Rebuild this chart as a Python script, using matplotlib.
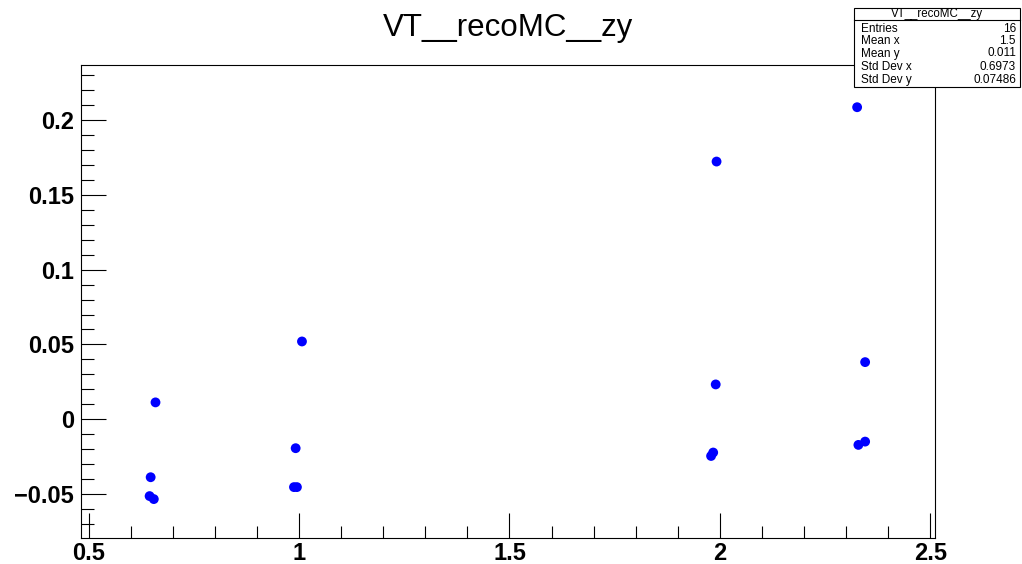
import matplotlib
matplotlib.use("Agg")
import matplotlib.pyplot as plt
from matplotlib.patches import Rectangle
from matplotlib.ticker import MultipleLocator

plt.rcParams['font.family'] = ['Liberation Sans', 'DejaVu Sans']

title = "VT__recoMC__zy"
x_vals = [0.659, 0.6475, 0.645, 0.655,
          1.007, 0.992, 0.988, 0.995,
          1.992, 1.990, 1.979, 1.984,
          2.326, 2.345, 2.329, 2.345]
y_vals = [0.0113, -0.0387, -0.0513, -0.0533,
          0.0520, -0.0193, -0.0453, -0.0453,
          0.1722, 0.0233, -0.0245, -0.0222,
          0.2085, 0.0382, -0.0171, -0.0149]
stat_names = ["Entries", "Mean x", "Mean y", "Std Dev x", "Std Dev y"]
stat_values = ["16", "1.5", "0.011", "0.6973", "0.07486"]

W, H = 1022, 564
fig = plt.figure(figsize=(W / 100, H / 100), dpi=100)
fig.patch.set_facecolor("white")

left, right, top, bottom = 81, 935, 65, 538
ax = fig.add_axes([left / W, 1 - bottom / H, (right - left) / W, (bottom - top) / H])
ax.scatter(x_vals, y_vals, s=50, color=(0, 0, 1), edgecolors='none', zorder=3)

ax.set_xlim(0.482, 2.511)
ax.set_ylim(-0.0793, 0.2367)

ax.xaxis.set_major_locator(MultipleLocator(0.5))
ax.xaxis.set_minor_locator(MultipleLocator(0.1))
ax.yaxis.set_major_locator(MultipleLocator(0.05))
ax.yaxis.set_minor_locator(MultipleLocator(0.01))

ax.tick_params(which='both', direction='in', top=False, right=False, color='black', width=0.8)
ax.tick_params(which='major', length=18)
ax.tick_params(which='minor', length=9)
ax.tick_params(axis='y', which='major', labelsize=17, pad=5)
ax.tick_params(axis='x', which='major', labelsize=17, pad=3)

def fmt(v, pos=None):
    s = ("%.2f" % v).rstrip('0').rstrip('.')
    if s in ("-0", ""):
        s = "0"
    return s.replace('-', '\u2212')

ax.xaxis.set_major_formatter(plt.FuncFormatter(fmt))
ax.yaxis.set_major_formatter(plt.FuncFormatter(fmt))
for lab in ax.get_xticklabels() + ax.get_yticklabels():
    lab.set_fontweight('bold')

for sp in ax.spines.values():
    sp.set_linewidth(0.8)
    sp.set_color('black')

fig.text(508 / W, 1 - 28 / H, title, ha='center', va='center', fontsize=22.5)

# stats box
bx0, by0, bx1, by1 = 854, 8, 1020, 87
fig.patches.append(Rectangle((bx0 / W, 1 - by1 / H), (bx1 - bx0) / W, (by1 - by0) / H,
                             transform=fig.transFigure, facecolor='white',
                             edgecolor='black', linewidth=0.8, zorder=5))
fig.lines.append(plt.Line2D([bx0 / W, bx1 / W], [1 - 20 / H, 1 - 20 / H],
                            transform=fig.transFigure, color='black', linewidth=0.8, zorder=6))
fig.text((bx0 + bx1) / 2 / W, 1 - 14 / H, title, ha='center', va='center', fontsize=8.3, zorder=7)
rows_y = [28.5, 41.5, 53.5, 67, 80]
for name, val, yy in zip(stat_names, stat_values, rows_y):
    fig.text(861 / W, 1 - yy / H, name, ha='left', va='center', fontsize=8.5, zorder=7)
    fig.text(1016 / W, 1 - yy / H, val, ha='right', va='center', fontsize=8.5, zorder=7)

fig.savefig("out.png", dpi=100)
